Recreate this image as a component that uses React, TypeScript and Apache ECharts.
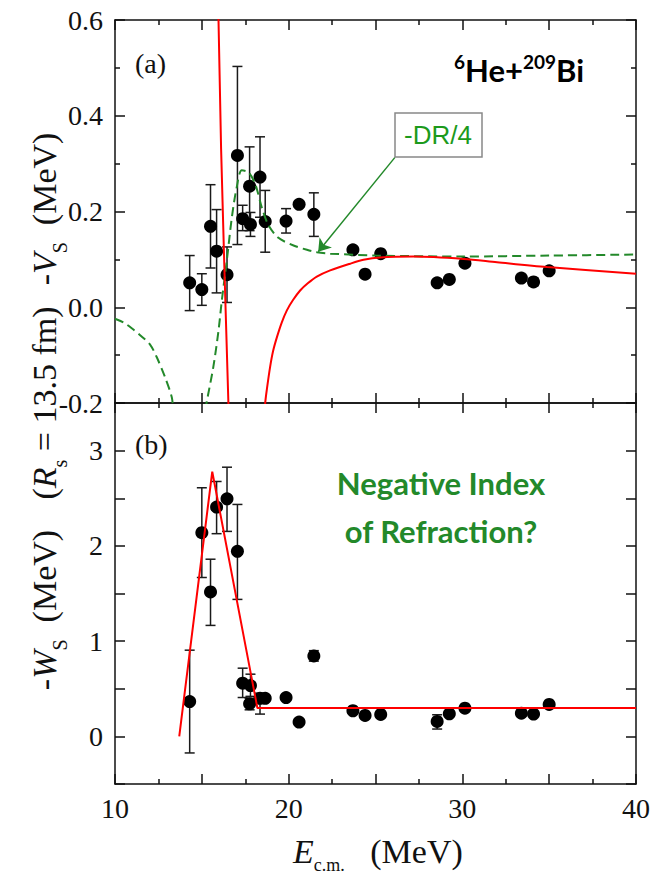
import React, { useEffect, useRef } from "react";
import * as echarts from "echarts";

// ---- Data ----
const energy = [14.3, 15.0, 15.5, 15.85, 16.45, 17.05, 17.35, 17.75, 17.8, 18.35, 18.65, 19.85, 20.6, 21.45, 23.7, 24.4, 25.3, 28.55, 29.25, 30.15, 33.4, 34.1, 35.0];

const vS = [0.051, 0.037, 0.169, 0.117, 0.068, 0.317, 0.185, 0.253, 0.173, 0.272, 0.179, 0.18, 0.215, 0.194, 0.12, 0.069, 0.112, 0.051, 0.058, 0.092, 0.061, 0.053, 0.076];
const vLow = [-0.007, 0.004, 0.082, 0.03, 0.01, 0.131, 0.16, 0.16, 0.148, 0.188, 0.115, 0.155, null, 0.148, null, null, null, null, null, null, null, 0.045, null];
const vHigh = [0.108, 0.07, 0.256, 0.204, 0.126, 0.503, 0.213, 0.335, 0.198, 0.356, 0.244, 0.206, null, 0.239, null, null, null, null, null, null, null, 0.061, null];

const wS = [0.366, 2.139, 1.517, 2.407, 2.494, 1.943, 0.559, 0.342, 0.534, 0.4, 0.4, 0.408, 0.15, 0.844, 0.269, 0.22, 0.23, 0.157, 0.237, 0.296, 0.244, 0.234, 0.335];
const wLow = [-0.174, 1.668, 1.165, 2.128, 2.152, 1.438, 0.408, 0.279, 0.42, 0.234, null, null, null, 0.79, null, null, null, 0.077, null, null, null, null, null];
const wHigh = [0.905, 2.61, 1.86, 2.676, 2.826, 2.435, 0.716, 0.4, 0.653, 0.454, null, null, null, 0.9, null, null, null, 0.227, null, null, null, null, null];

// red fit curve of V (two branches around the pole)
const vFitLeft = [[15.93, 0.65], [15.96, 0.6], [16.11, 0.33], [16.3, 0.08], [16.53, -0.2], [16.56, -0.24]];
const vFitRight = [[18.6, -0.24], [18.65, -0.2], [18.75, -0.17], [18.93, -0.125], [19.1, -0.092], [19.32, -0.063], [19.6, -0.032], [19.89, -0.007], [20.25, 0.015], [20.66, 0.035], [21.1, 0.05], [21.62, 0.064], [22.39, 0.077], [23.54, 0.091], [24.31, 0.099], [25.27, 0.104], [27.19, 0.106], [30.08, 0.101], [32.0, 0.094], [34.88, 0.084], [40.0, 0.07]];

// green dashed -DR/4 curve
const dr4Left = [[10.0, -0.024], [10.5, -0.032], [11.0, -0.045], [11.5, -0.06], [12.02, -0.078], [12.4, -0.104], [12.88, -0.146], [13.27, -0.188], [13.35, -0.215]];
const dr4Right = [[15.2, -0.215], [15.28, -0.198], [15.66, -0.125], [15.96, -0.049], [16.15, 0.014], [16.44, 0.098], [16.73, 0.188], [17.01, 0.251], [17.3, 0.286], [17.68, 0.282], [18.07, 0.258], [18.45, 0.209], [18.84, 0.171], [19.41, 0.145], [20.28, 0.129], [21.05, 0.12], [21.62, 0.115], [22.39, 0.112], [25.0, 0.108], [30.0, 0.106], [35.0, 0.108], [40.0, 0.11]];

// red fit of W (triangle + constant)
const wFit = [[13.7, 0], [15.6, 2.78], [18.2, 0.297], [40, 0.297]];

// arrow from the "-DR/4" box to the curve
const arrowFrom = [26.12, 0.313];
const arrowTo = [21.7, 0.116];

const xTicks = { min: 10, max: 40, interval: 5 };

const RED = "#ff0000";
const GREEN = "#23892a";
const SERIF = "Liberation Serif";

function errData(lo: (number | null)[], hi: (number | null)[]) {
  const out: number[][] = [];
  energy.forEach((e, i) => {
    if (lo[i] != null && hi[i] != null) out.push([e, lo[i] as number, hi[i] as number]);
  });
  return out;
}

function renderErr(params: any, api: any) {
  const x = api.value(0);
  const p1 = api.coord([x, api.value(1)]);
  const p2 = api.coord([x, api.value(2)]);
  const w = 5;
  const st = { stroke: "#1a1a1a", lineWidth: 1.5 };
  return {
    type: "group",
    children: [
      { type: "line", shape: { x1: p1[0], y1: p1[1], x2: p2[0], y2: p2[1] }, style: st },
      { type: "line", shape: { x1: p1[0] - w, y1: p1[1], x2: p1[0] + w, y2: p1[1] }, style: st },
      { type: "line", shape: { x1: p2[0] - w, y1: p2[1], x2: p2[0] + w, y2: p2[1] }, style: st },
    ],
  };
}

const axisLine = { show: true, onZero: false, lineStyle: { color: "#111", width: 1.5 } };
const tick = { show: true, inside: true, length: 10, lineStyle: { color: "#111", width: 1.5 } };
const minor = { show: true, splitNumber: 2, length: 5, lineStyle: { color: "#111", width: 1.5 } };
const labelStyle = { fontFamily: SERIF, fontSize: 28, color: "#111" };

const titleRich = {
  n: { fontFamily: SERIF, fontSize: 34, lineHeight: 52, fill: "#111" },
  i: { fontFamily: SERIF, fontStyle: "italic", fontSize: 34, lineHeight: 52, fill: "#111" },
  sub: { fontFamily: SERIF, fontSize: 20, lineHeight: 20, verticalAlign: "bottom", fill: "#111" },
};

export default function App() {
  const ref = useRef<HTMLDivElement>(null);
  useEffect(() => {
    if (!ref.current) return;
    const chart = echarts.init(ref.current, undefined, { renderer: "svg" });
    const xAxisBase = (grid: number, position: string, labels: boolean) => ({
      type: "value",
      gridIndex: grid,
      position,
      ...xTicks,
      axisLine,
      axisTick: tick,
      minorTick: minor,
      splitLine: { show: false },
      axisLabel: labels
        ? { show: true, margin: 10, ...labelStyle, formatter: (v: number) => (v % 10 === 0 ? String(v) : "") }
        : { show: false },
    });
    const option: any = {
      animation: false,
      backgroundColor: "#fff",
      textStyle: { fontFamily: SERIF },
      grid: [
        { left: 115, top: 20, width: 521, height: 383 },
        { left: 115, top: 403, width: 521, height: 381 },
      ],
      xAxis: [
        xAxisBase(0, "bottom", false),
        xAxisBase(0, "top", false),
        xAxisBase(1, "bottom", true),
        xAxisBase(1, "top", false),
      ],
      yAxis: [
        {
          type: "value", gridIndex: 0, position: "left", min: -0.2, max: 0.6, interval: 0.2,
          axisLine, axisTick: tick, minorTick: minor, splitLine: { show: false },
          axisLabel: { margin: 12, ...labelStyle, formatter: (v: number) => v.toFixed(1) },
        },
        {
          type: "value", gridIndex: 0, position: "right", min: -0.2, max: 0.6, interval: 0.2,
          axisLine, axisTick: tick, minorTick: minor, splitLine: { show: false }, axisLabel: { show: false },
        },
        {
          type: "value", gridIndex: 1, position: "left", min: -0.5, max: 3.5, interval: 0.5,
          axisLine, axisTick: tick, splitLine: { show: false },
          axisLabel: { margin: 12, ...labelStyle, formatter: (v: number) => (Math.abs(v - Math.round(v)) < 1e-6 ? String(Math.round(v)) : "") },
        },
        {
          type: "value", gridIndex: 1, position: "right", min: -0.5, max: 3.5, interval: 0.5,
          axisLine, axisTick: tick, splitLine: { show: false }, axisLabel: { show: false },
        },
      ],
      series: [
        // top panel
        { type: "custom", xAxisIndex: 0, yAxisIndex: 0, data: errData(vLow, vHigh), encode: { x: 0, y: [1, 2] }, renderItem: renderErr, z: 2, silent: true },
        { type: "scatter", xAxisIndex: 0, yAxisIndex: 0, data: energy.map((e, i) => [e, vS[i]]), symbolSize: 13, itemStyle: { color: "#000", opacity: 1 }, z: 3, silent: true },
        { type: "line", xAxisIndex: 0, yAxisIndex: 0, data: vFitLeft, showSymbol: false, symbol: "none", lineStyle: { color: RED, width: 2 }, z: 5, clip: true, silent: true },
        { type: "line", xAxisIndex: 0, yAxisIndex: 0, data: vFitRight, smooth: 0.3, showSymbol: false, symbol: "none", lineStyle: { color: RED, width: 2 }, z: 5, clip: true, silent: true },
        { type: "line", xAxisIndex: 0, yAxisIndex: 0, data: dr4Left, smooth: 0.3, showSymbol: false, symbol: "none", lineStyle: { color: GREEN, width: 2, type: [9, 5] }, z: 4, clip: true, silent: true },
        {
          type: "line", xAxisIndex: 0, yAxisIndex: 0, data: dr4Right, smooth: 0.3, showSymbol: false, symbol: "none",
          lineStyle: { color: GREEN, width: 2, type: [9, 5] }, z: 4, clip: true, silent: true,
          markLine: {
            silent: true, symbol: ["none", "arrow"], symbolSize: 12, animation: false,
            label: { show: false },
            lineStyle: { color: GREEN, width: 1.5, type: "solid" },
            data: [[{ coord: arrowFrom }, { coord: arrowTo }]],
          },
        },
        // bottom panel
        { type: "custom", xAxisIndex: 2, yAxisIndex: 2, data: errData(wLow, wHigh), encode: { x: 0, y: [1, 2] }, renderItem: renderErr, z: 2, silent: true },
        { type: "scatter", xAxisIndex: 2, yAxisIndex: 2, data: energy.map((e, i) => [e, wS[i]]), symbolSize: 13, itemStyle: { color: "#000", opacity: 1 }, z: 3, silent: true },
        { type: "line", xAxisIndex: 2, yAxisIndex: 2, data: wFit, showSymbol: false, symbol: "none", lineStyle: { color: RED, width: 2 }, z: 5, clip: true, silent: true },
      ],
      graphic: [
        { type: "text", x: 135, y: 63, style: { text: "(a)", fontFamily: SERIF, fontSize: 28, fill: "#111", textVerticalAlign: "middle" } },
        { type: "text", x: 135, y: 444, style: { text: "(b)", fontFamily: SERIF, fontSize: 28, fill: "#111", textVerticalAlign: "middle" } },
        {
          type: "text", x: 454, y: 52,
          style: {
            text: "{sup|6}{b|He+}{sup|209}{b|Bi}",
            textVerticalAlign: "top",
            rich: {
              b: { fontFamily: "Lato", fontWeight: "bold", fontSize: 31, lineHeight: 36, fill: "#000" },
              sup: { fontFamily: "Lato", fontWeight: "bold", fontSize: 19, lineHeight: 19, verticalAlign: "top", fill: "#000" },
            },
          },
        },
        { type: "text", x: 441, y: 483, style: { text: "Negative Index", fontFamily: "Lato", fontWeight: "bold", fontSize: 31, fill: GREEN, textAlign: "center", textVerticalAlign: "middle" } },
        { type: "text", x: 441, y: 531, style: { text: "of Refraction?", fontFamily: "Lato", fontWeight: "bold", fontSize: 31, fill: GREEN, textAlign: "center", textVerticalAlign: "middle" } },
        { type: "rect", shape: { x: 395, y: 113, width: 87, height: 44 }, style: { fill: "#fff", stroke: "#888", lineWidth: 1.5 }, z: 10 },
        { type: "text", x: 438, y: 135, z: 11, style: { text: "-DR/4", fontFamily: "Liberation Sans", fontSize: 26, fill: "#1c9a1c", textAlign: "center", textVerticalAlign: "middle" } },
        // axis titles
        {
          type: "text", x: 293, y: 828,
          style: {
            text: "{i|E}{sub|c.m.}{n|   (MeV)}", textVerticalAlign: "top",
            rich: {
              n: { ...titleRich.n, lineHeight: 46 },
              i: { ...titleRich.i, lineHeight: 46 },
              sub: { ...titleRich.sub, fontSize: 18, lineHeight: 18 },
            },
          },
        },
        { type: "text", x: 44, y: 209, rotation: Math.PI / 2, style: { text: "{n|-}{i|V}{sub|S}{n|  (MeV)}", textAlign: "center", textVerticalAlign: "middle", rich: titleRich } },
        { type: "text", x: 44, y: 403, rotation: Math.PI / 2, style: { text: "{n|(}{i|R}{sub|s}{n| = 13.5 fm)}", textAlign: "center", textVerticalAlign: "middle", rich: titleRich } },
        { type: "text", x: 44, y: 610, rotation: Math.PI / 2, style: { text: "{n|-}{i|W}{sub|S}{n|  (MeV)}", textAlign: "center", textVerticalAlign: "middle", rich: titleRich } },
      ],
    };
    chart.setOption(option);
    return () => chart.dispose();
  }, []);
  return <div ref={ref} style={{ position: "fixed", left: 0, top: 0, width: 658, height: 876, background: "#fff" }} />;
}
